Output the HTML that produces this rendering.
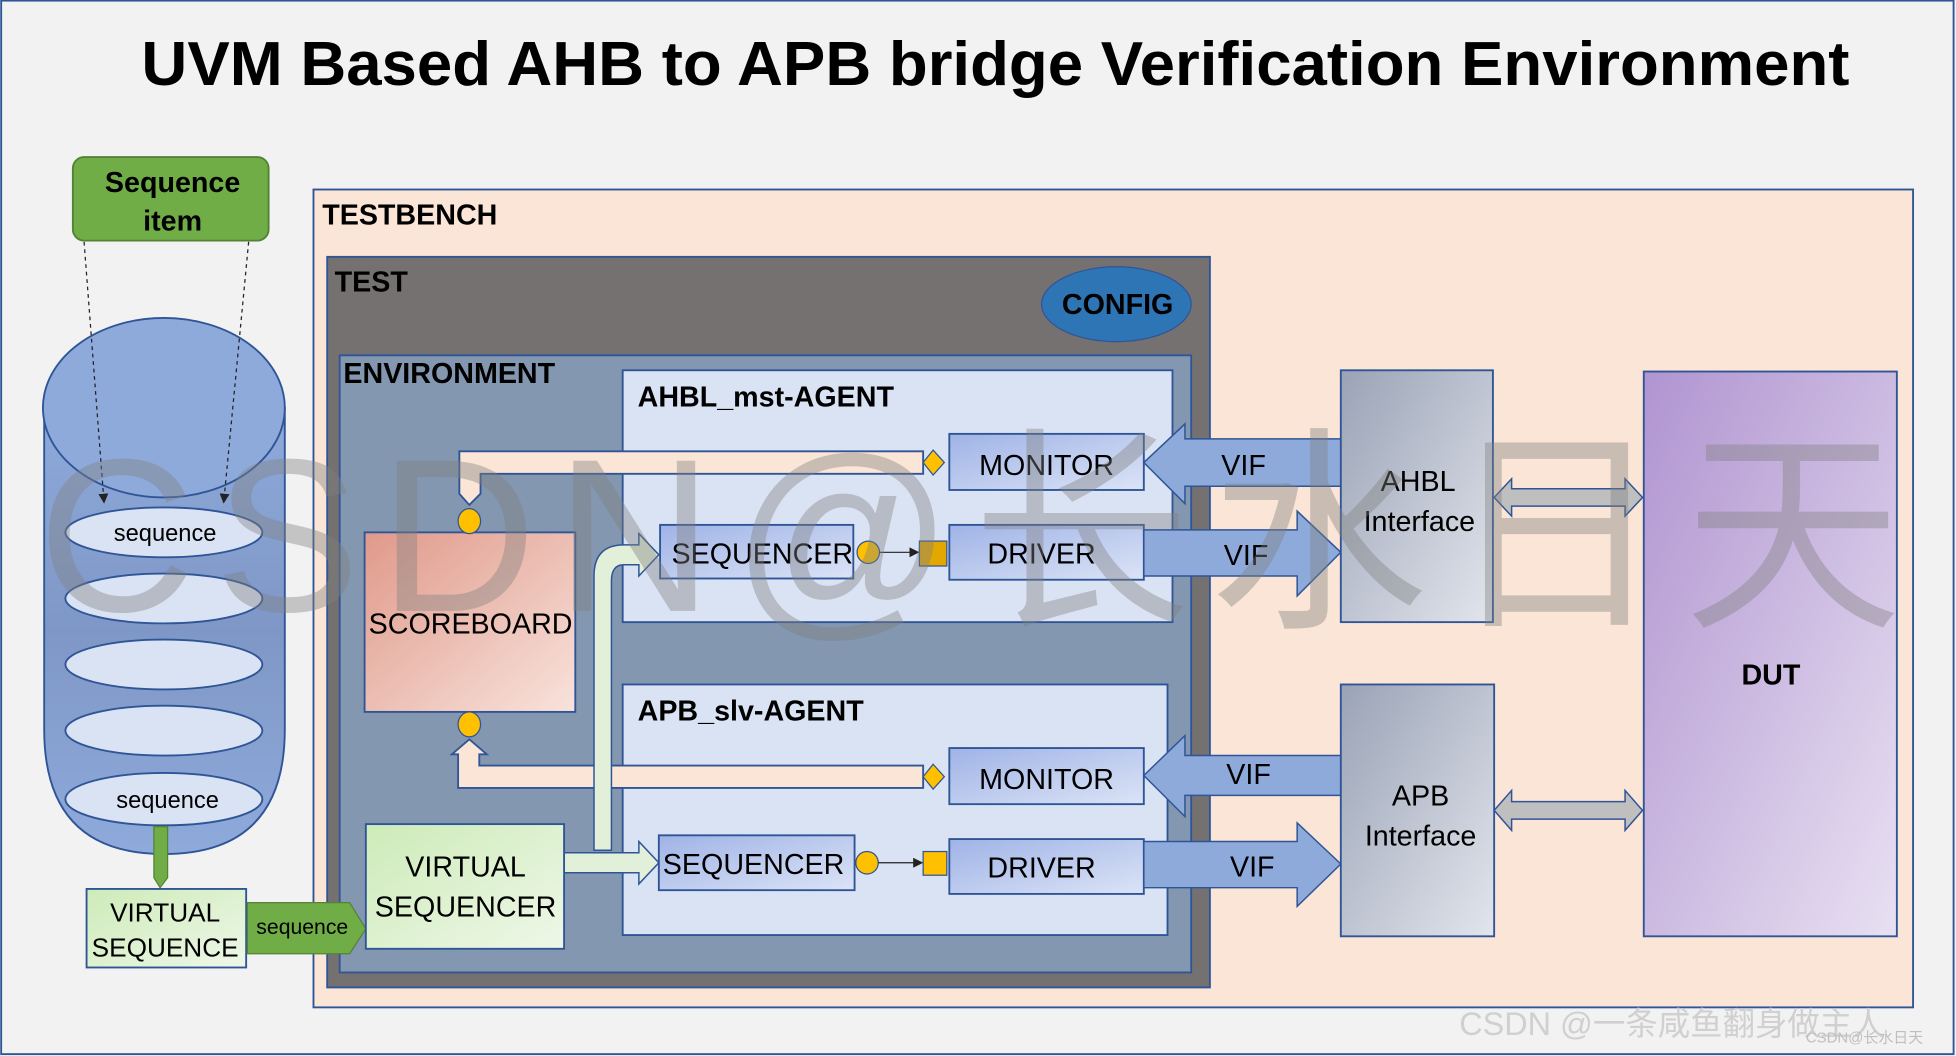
<!DOCTYPE html>
<html><head><meta charset="utf-8"><style>
html,body{margin:0;padding:0;background:#f2f2f2;}
svg{display:block;}
text{font-family:"Liberation Sans","Noto Sans CJK SC",sans-serif;}
</style></head><body>
<svg width="1956" height="1056" viewBox="0 0 1568 847" xmlns="http://www.w3.org/2000/svg">
<defs>
<linearGradient id="cyl" x1="0" y1="0" x2="0" y2="1"><stop offset="0" stop-color="#8eaadb"/><stop offset="0.5" stop-color="#7f97c6"/><stop offset="1" stop-color="#8eaadb"/></linearGradient>
<linearGradient id="sb" x1="0" y1="0" x2="1" y2="1"><stop offset="0" stop-color="#e0998a"/><stop offset="1" stop-color="#f8e3dc"/></linearGradient>
<linearGradient id="bl" x1="0" y1="0" x2="1" y2="1"><stop offset="0" stop-color="#9fb3e6"/><stop offset="1" stop-color="#dbe3f6"/></linearGradient>
<linearGradient id="gr" x1="0" y1="0" x2="1" y2="1"><stop offset="0" stop-color="#cdebb8"/><stop offset="1" stop-color="#eef7e8"/></linearGradient>
<linearGradient id="if" x1="0" y1="0" x2="1" y2="1"><stop offset="0" stop-color="#9aa3b6"/><stop offset="1" stop-color="#e2e5ec"/></linearGradient>
<linearGradient id="dut" x1="0" y1="0" x2="1" y2="1"><stop offset="0" stop-color="#b094d0"/><stop offset="1" stop-color="#e8e0f2"/></linearGradient>
<marker id="ah" markerWidth="8" markerHeight="8" refX="7" refY="4" orient="auto"><path d="M0,0L8,4L0,8z" fill="#222"/></marker>
</defs>
<rect x="0.5" y="0.5" width="1566" height="845" fill="#f2f2f2" stroke="#2f5597" stroke-width="1.5"/>
<text x="113" y="68" font-size="50" font-weight="bold" textLength="1370" lengthAdjust="spacingAndGlyphs" fill="#000">UVM Based AHB to APB bridge Verification Environment</text>

<!-- sequence item -->
<rect x="58" y="126" width="157" height="67" rx="9" fill="#70ad47" stroke="#548235" stroke-width="1.5"/>
<text x="138" y="154" font-size="23" font-weight="bold" text-anchor="middle">Sequence</text>
<text x="138" y="185" font-size="23" font-weight="bold" text-anchor="middle">item</text>

<!-- cylinder -->
<path d="M35,327 L35,585 Q35,685 131,685 Q228,685 228,585 L228,327 Z" fill="url(#cyl)" stroke="#2f5597" stroke-width="1.5"/>
<ellipse cx="131" cy="327" rx="97" ry="72" fill="#8eaadb" stroke="#2f5597" stroke-width="1.5"/>
<g fill="#dae3f3" stroke="#2f5597" stroke-width="1.5">
<ellipse cx="131" cy="427" rx="79" ry="20"/><ellipse cx="131" cy="480" rx="79" ry="20"/><ellipse cx="131" cy="533" rx="79" ry="20"/><ellipse cx="131" cy="586" rx="79" ry="20"/><ellipse cx="131" cy="641" rx="79" ry="21"/>
</g>
<text x="132" y="434" font-size="19" text-anchor="middle">sequence</text>
<text x="134" y="648" font-size="19" text-anchor="middle">sequence</text>
<line x1="67" y1="194" x2="83" y2="403" stroke="#222" stroke-dasharray="3,3" marker-end="url(#ah)"/>
<line x1="199" y1="194" x2="179" y2="403" stroke="#222" stroke-dasharray="3,3" marker-end="url(#ah)"/>
<path d="M123,663 L134,663 L134,704 L128,712 L123,704 Z" fill="#70ad47" stroke="#548235"/>

<!-- virtual sequence -->
<rect x="69" y="713" width="128" height="63" fill="url(#gr)" stroke="#2f5597" stroke-width="1.5"/>
<text x="132" y="739" font-size="21" text-anchor="middle">VIRTUAL</text>
<text x="132" y="767" font-size="21" text-anchor="middle">SEQUENCE</text>

<!-- testbench -->
<rect x="251" y="152" width="1283" height="656" fill="#fbe5d6" stroke="#2f5597" stroke-width="1.5"/>
<text x="258" y="180" font-size="23" font-weight="bold">TESTBENCH</text>
<rect x="262" y="206" width="708" height="586" fill="#767171" stroke="#2f5597" stroke-width="1.5"/>
<text x="268" y="234" font-size="23" font-weight="bold">TEST</text>
<ellipse cx="895" cy="244" rx="60" ry="30" fill="#2e75b6" stroke="#2f5597"/>
<text x="896" y="252" font-size="23" font-weight="bold" text-anchor="middle">CONFIG</text>
<rect x="272" y="285" width="683" height="495" fill="#8497b0" stroke="#2f5597" stroke-width="1.5"/>
<text x="275" y="307" font-size="23" font-weight="bold">ENVIRONMENT</text>

<!-- sequence pentagon (on top) -->
<path d="M198,724 L280,724 L293,745 L280,765 L198,765 Z" fill="#70ad47" stroke="#548235"/>
<text x="242" y="749" font-size="17" text-anchor="middle">sequence</text>

<rect x="499" y="297" width="441" height="202" fill="#dae3f3" stroke="#2f5597" stroke-width="1.5"/>
<text x="511" y="326" font-size="23" font-weight="bold">AHBL_mst-AGENT</text>
<rect x="499" y="549" width="437" height="201" fill="#dae3f3" stroke="#2f5597" stroke-width="1.5"/>
<text x="511" y="578" font-size="23" font-weight="bold">APB_slv-AGENT</text>

<!-- scoreboard -->
<rect x="292" y="427" width="169" height="144" fill="url(#sb)" stroke="#2f5597" stroke-width="1.5"/>
<text x="377" y="508" font-size="23" text-anchor="middle">SCOREBOARD</text>

<!-- analysis arrows -->
<path d="M740,362 L740,380 L385,380 L385,396 L376,405 L368,396 L368,362 Z" fill="#fbe5d6" stroke="#2f5597" stroke-width="1.5"/>
<path d="M740,614 L740,632 L367,632 L367,605 L362,605 L376,593 L390,605 L384,605 L384,614 Z" fill="#fbe5d6" stroke="#2f5597" stroke-width="1.5"/>
<ellipse cx="376" cy="418" rx="9" ry="10" fill="#ffc000" stroke="#2f5597"/>
<ellipse cx="376" cy="581" rx="9" ry="10" fill="#ffc000" stroke="#2f5597"/>
<path d="M748,361 L757,371 L748,381 L740,371 Z" fill="#ffc000" stroke="#2f5597"/>
<path d="M748,613 L757,623 L748,633 L740,623 Z" fill="#ffc000" stroke="#2f5597"/>

<!-- virtual sequencer -->
<path d="M476,682 L476,462 Q476,437 500,437 L512,437 L512,428 L528,445 L512,462 L512,453 L500,453 Q490,453 490,466 L490,682 Z" fill="#e2efd9" stroke="#2f5597" stroke-width="1.2"/>
<path d="M452,684 L512,684 L512,675 L528,692 L512,709 L512,700 L452,700 Z" fill="#e2efd9" stroke="#2f5597" stroke-width="1.2"/>
<rect x="293" y="661" width="159" height="100" fill="url(#gr)" stroke="#2f5597" stroke-width="1.5"/>
<text x="373" y="703" font-size="23" text-anchor="middle">VIRTUAL</text>
<text x="373" y="735" font-size="23" text-anchor="middle">SEQUENCER</text>

<!-- agent components -->
<g stroke="#2f5597" stroke-width="1.5" fill="url(#bl)">
<rect x="761" y="348" width="156" height="45"/>
<rect x="529" y="421" width="155" height="43"/>
<rect x="761" y="421" width="156" height="44"/>
<rect x="761" y="600" width="156" height="45"/>
<rect x="528" y="670" width="157" height="44"/>
<rect x="761" y="673" width="156" height="44"/>
</g>
<g font-size="23" text-anchor="middle">
<text x="839" y="381">MONITOR</text>
<text x="611" y="452">SEQUENCER</text>
<text x="835" y="452">DRIVER</text>
<text x="839" y="633">MONITOR</text>
<text x="604" y="701">SEQUENCER</text>
<text x="835" y="704">DRIVER</text>
</g>
<ellipse cx="696" cy="443" rx="9" ry="9" fill="#ffc000" stroke="#2f5597"/>
<line x1="705" y1="443" x2="736" y2="443" stroke="#222" marker-end="url(#ah)"/>
<rect x="737" y="434" width="22" height="20" fill="#e3a800" stroke="#2f5597"/>
<ellipse cx="695" cy="692" rx="9" ry="9" fill="#ffc000" stroke="#2f5597"/>
<line x1="704" y1="692" x2="739" y2="692" stroke="#222" marker-end="url(#ah)"/>
<rect x="740" y="683" width="19" height="19" fill="#ffc000" stroke="#2f5597"/>

<!-- VIF arrows -->
<g fill="#8eaadb" stroke="#2f5597" stroke-width="1.2">
<path d="M1075,352 L950,352 L950,340 L917,371 L950,404 L950,390 L1075,390 Z"/>
<path d="M917,425 L1040,425 L1040,410 L1075,443 L1040,478 L1040,462 L917,462 Z"/>
<path d="M1075,606 L950,606 L950,590 L917,622 L950,655 L950,638 L1075,638 Z"/>
<path d="M917,675 L1040,675 L1040,660 L1075,693 L1040,727 L1040,712 L917,712 Z"/>
</g>
<g font-size="23" text-anchor="middle">
<text x="997" y="381">VIF</text><text x="999" y="453">VIF</text>
<text x="1001" y="629">VIF</text><text x="1004" y="703">VIF</text>
</g>

<!-- interfaces -->
<rect x="1075" y="297" width="122" height="202" fill="url(#if)" stroke="#2f5597" stroke-width="1.5"/>
<text x="1137" y="394" font-size="23" text-anchor="middle">AHBL</text>
<text x="1138" y="426" font-size="23" text-anchor="middle">Interface</text>
<rect x="1075" y="549" width="123" height="202" fill="url(#if)" stroke="#2f5597" stroke-width="1.5"/>
<text x="1139" y="646" font-size="23" text-anchor="middle">APB</text>
<text x="1139" y="678" font-size="23" text-anchor="middle">Interface</text>
<g fill="#bfbfbf" stroke="#2f5597" stroke-width="1.2">
<path d="M1198,399 L1212,384 L1212,392 L1303,392 L1303,384 L1317,399 L1303,414 L1303,406 L1212,406 L1212,414 Z"/>
<path d="M1198,650 L1212,634 L1212,643 L1303,643 L1303,634 L1317,650 L1303,666 L1303,657 L1212,657 L1212,666 Z"/>
</g>
<rect x="1318" y="298" width="203" height="453" fill="url(#dut)" stroke="#2f5597" stroke-width="1.5"/>
<text x="1420" y="549" font-size="23" font-weight="bold" text-anchor="middle">DUT</text>

<!-- watermark -->
<text x="30" y="490" font-size="175" fill="#808080" fill-opacity="0.4" textLength="1495" lengthAdjust="spacing">CSDN@长水日天</text>
<text x="1170" y="830" font-size="26" fill="#d0d0d0">CSDN @一条咸鱼翻身做主人</text>
<text x="1448" y="836" font-size="12" fill="#bfbfbf">CSDN@长水日天</text>
</svg>
</body></html>
